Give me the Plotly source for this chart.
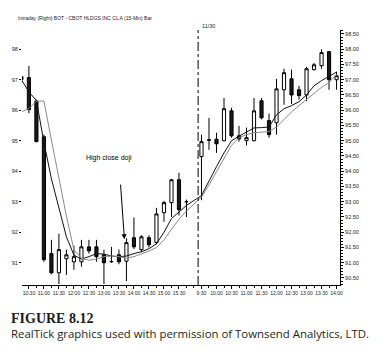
import plotly.graph_objects as go

# ---------------- data ----------------
day1_times = ["10:15", "10:30", "10:45", "11:00", "11:15", "11:30", "11:45", "12:00", "12:15",
              "12:30", "12:45", "13:00", "13:15", "13:30", "13:45", "14:00", "14:15", "14:30",
              "14:45", "15:00", "15:15", "15:30", "15:45"]
day2_times = ["9:30", "9:45", "10:00", "10:15", "10:30", "10:45", "11:00", "11:15", "11:30",
              "11:45", "12:00", "12:15", "12:30", "12:45", "13:00", "13:15", "13:30", "13:45", "14:00"]

day1_open = [97.10, 97.07, 96.30, 95.13, 91.30, 90.67, 91.13, 91.03, 91.03, 91.52, 91.52, 91.26,
             91.03, 91.26, 91.05, 91.82, 91.43, 91.82, 91.66, 92.64, 92.97, 93.72, 93.00]
day1_high = [98.55, 97.45, 96.35, 95.20, 91.75, 91.95, 91.43, 91.56, 91.75, 91.75, 91.75, 91.43,
             91.52, 91.43, 91.80, 92.48, 91.90, 91.90, 92.80, 93.03, 93.75, 93.95, 93.07]
day1_low = [96.30, 95.90, 94.95, 91.03, 90.62, 90.30, 90.60, 90.77, 90.87, 91.30, 91.03, 90.30,
            91.00, 90.95, 90.40, 91.45, 91.35, 91.50, 91.60, 92.34, 92.50, 92.55, 92.50]
day1_close = [97.00, 96.02, 94.97, 91.10, 90.67, 91.43, 91.26, 91.20, 91.52, 91.39, 91.20, 91.00,
              91.04, 91.03, 91.66, 91.52, 91.85, 91.59, 92.60, 92.97, 93.72, 92.74, 93.00]

day2_open = [94.48, 95.03, 95.05, 95.00, 95.98, 95.16, 95.00, 95.00, 96.31, 95.66, 95.59, 96.67,
             97.03, 96.67, 96.50, 97.33, 97.46, 97.92, 97.00]
day2_high = [95.20, 95.75, 95.26, 96.40, 96.08, 95.49, 95.43, 96.40, 96.40, 95.89, 97.03, 97.36,
             97.33, 96.80, 97.42, 97.55, 98.00, 97.93, 97.26]
day2_low = [93.05, 94.70, 94.60, 94.98, 95.10, 94.97, 94.84, 94.98, 95.70, 95.10, 95.20, 96.18,
            96.20, 96.35, 96.30, 97.30, 97.36, 96.67, 96.67]
day2_close = [94.97, 95.02, 94.90, 96.05, 95.16, 95.06, 95.10, 95.98, 95.75, 95.20, 96.70, 97.23,
              96.50, 96.48, 97.36, 97.49, 97.89, 97.00, 97.13]

ma_fast_day1 = [97.00, 96.60, 96.32, 94.95, 93.75, 92.80, 91.85, 91.25, 91.12, 91.20, 91.30, 91.28,
                91.22, 91.20, 91.22, 91.30, 91.36, 91.46, 91.62, 92.00, 92.45, 92.66, 92.88]
ma_slow_day1 = [95.95, 96.05, 96.30, 96.30, 95.02, 93.78, 92.53, 91.42, 91.15, 91.08, 91.12, 91.20,
                91.22, 91.20, 91.15, 91.20, 91.28, 91.38, 91.50, 91.75, 92.10, 92.42, 92.70]
ma_fast_day2 = [93.20, 93.70, 94.15, 94.60, 95.00, 95.15, 95.28, 95.42, 95.43, 95.45, 95.85, 96.05,
                96.15, 96.28, 96.50, 96.80, 96.97, 97.10, 97.25]
ma_slow_day2 = [93.15, 93.55, 94.00, 94.40, 94.85, 95.10, 95.20, 95.26, 95.28, 95.30, 95.45, 95.70,
                95.94, 96.15, 96.34, 96.55, 96.75, 96.90, 97.18]

left_ticks = [91, 92, 93, 94, 95, 96, 97, 98]
right_ticks = [90.5, 91.0, 91.5, 92.0, 92.5, 93.0, 93.5, 94.0, 94.5, 95.0, 95.5, 96.0, 96.5,
               97.0, 97.5, 98.0, 98.5]
title_text = "Intraday (Right) BOT - CBOT HLDGS INC CL A (15-Min) Bar"
day2_label = "11/30"
note_text = "High close doji"
note_bar = "13:45"
fig_label = "FIGURE 8.12"
caption = "RealTick graphics used with permission of Townsend Analytics, LTD."

# ---------------- positions (bar slots, one empty slot between sessions) ----------------
GAP = 1
pos1 = list(range(len(day1_times)))
pos2 = [len(day1_times) + GAP + i for i in range(len(day2_times))]
pos = pos1 + pos2
times = day1_times + day2_times
opens = day1_open + day2_open
highs = day1_high + day2_high
lows = day1_low + day2_low
closes = day1_close + day2_close
ma_fast = ma_fast_day1 + ma_fast_day2
ma_slow = ma_slow_day1 + ma_slow_day2

tickvals = [p for p, t in zip(pos, times) if t.endswith(":00") or t.endswith(":30")]
ticktext = [t for t in times if t.endswith(":00") or t.endswith(":30")]

FONT = "Liberation Sans Narrow, Arial Narrow, Liberation Sans, Arial, sans-serif"
TXT = "#222222"

fig = go.Figure()
fig.add_trace(go.Candlestick(
    x=pos, open=opens, high=highs, low=lows, close=closes,
    increasing=dict(line=dict(color="black", width=1), fillcolor="white"),
    decreasing=dict(line=dict(color="black", width=1), fillcolor="#1a1a1a"),
    whiskerwidth=0, showlegend=False, hoverinfo="skip"))
fig.add_trace(go.Scatter(x=pos, y=ma_slow, mode="lines", yaxis="y2",
                         line=dict(color="#8a8a8a", width=1), showlegend=False, hoverinfo="skip"))
fig.add_trace(go.Scatter(x=pos, y=ma_fast, mode="lines",
                         line=dict(color="#111111", width=1), showlegend=False, hoverinfo="skip"))

yr = [90.27, 98.63]
xr = [0.08, pos[-1] + 0.46]

fig.update_layout(
    width=390, height=351,
    margin=dict(l=17, r=50, t=30, b=66),
    paper_bgcolor="white", plot_bgcolor="white",
    boxgap=0.4,
    font=dict(family=FONT, color=TXT, size=6),
    xaxis=dict(range=xr, rangeslider=dict(visible=False), showgrid=False, zeroline=False,
               showline=True, linecolor="black", linewidth=1,
               tickmode="array", tickvals=tickvals, ticktext=ticktext,
               ticks="outside", ticklen=3, tickcolor="black", tickwidth=1,
               tickfont=dict(size=5, family=FONT, color=TXT), tickangle=0,
               minor=dict(tickmode="linear", tick0=0, dtick=1, ticks="outside", ticklen=2,
                          tickcolor="black")),
    yaxis=dict(range=yr, showgrid=False, zeroline=False, showline=False,
               tickmode="array", tickvals=left_ticks, ticktext=[str(v) for v in left_ticks],
               ticks="outside", ticklen=2, tickcolor="black",
               tickfont=dict(size=5.5, family=FONT, color=TXT)),
    yaxis2=dict(range=yr, overlaying="y", side="right", showgrid=False, zeroline=False,
                showline=True, linecolor="black", linewidth=1,
                tickmode="array", tickvals=right_ticks, ticktext=[f"{v:.2f}" for v in right_ticks],
                ticks="outside", ticklen=3, tickcolor="black",
                tickfont=dict(size=5.5, family=FONT, color=TXT),
                minor=dict(tickmode="linear", tick0=90.5, dtick=0.1, ticks="outside", ticklen=1.5,
                           tickcolor="black")),
)

# day separator
sep_x = (pos1[-1] + pos2[0]) / 2 + 0.55
fig.add_shape(type="line", xref="x", yref="paper", x0=sep_x, x1=sep_x, y0=0, y1=1,
              line=dict(color="black", width=1, dash="dashdot"))

def px_x(px):
    return (px - 17) / 323

def px_y(py):
    return (285 - py) / 255

fig.add_annotation(text=title_text, xref="paper", yref="paper", x=px_x(11), y=px_y(18),
                   xanchor="left", yanchor="middle", showarrow=False,
                   font=dict(size=5, family=FONT, color=TXT))
fig.add_annotation(text=day2_label, xref="paper", yref="paper", x=px_x(198), y=px_y(26),
                   xanchor="left", yanchor="middle", showarrow=False,
                   font=dict(size=5.5, family=FONT, color=TXT))

# high close doji note
nb = times.index(note_bar)
fig.add_annotation(text=note_text, x=pos[nb] - 2.3, y=94.43, xref="x", yref="y",
                   showarrow=False, font=dict(size=7, family="Liberation Sans, Arial, sans-serif",
                                              color="black"))
fig.add_annotation(text="", x=pos[nb] - 0.27, y=highs[nb] - 0.03, ax=pos[nb] - 0.8, ay=93.61,
                   xref="x", yref="y", axref="x", ayref="y", showarrow=True,
                   arrowhead=2, arrowsize=1, arrowwidth=1, arrowcolor="black")

fig.add_annotation(text=fig_label, xref="paper", yref="paper", x=px_x(4), y=px_y(318),
                   xanchor="left", yanchor="middle", showarrow=False,
                   font=dict(size=14, family="Liberation Serif, Times New Roman, serif",
                             color="#1e1a1a", weight="bold"))
fig.add_annotation(text=caption, xref="paper", yref="paper", x=px_x(4), y=px_y(333),
                   xanchor="left", yanchor="middle", showarrow=False,
                   font=dict(size=11.4, family="Open Sans, sans-serif", color="#231f20"))

fig.write_html("out.html")
